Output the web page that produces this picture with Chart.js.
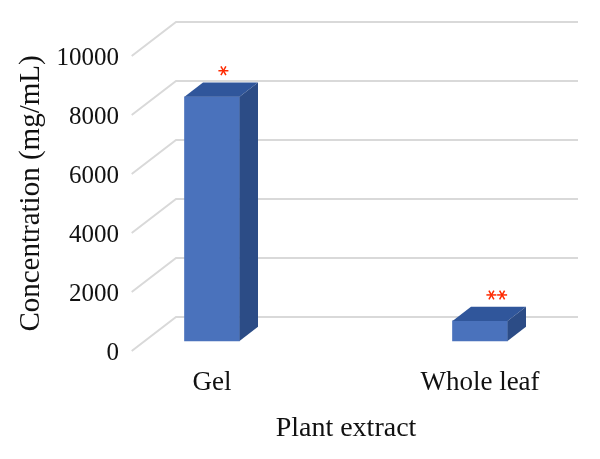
<!DOCTYPE html>
<html><head><meta charset="utf-8">
<script src="https://cdn.jsdelivr.net/npm/chart.js@4.4.1/dist/chart.umd.min.js"></script>
<style>html,body{margin:0;padding:0;background:#fff;}#wrap{width:600px;height:459px;}</style>
</head><body><div id="wrap"><canvas id="c" width="600" height="459"></canvas></div>
<script>
const categories = ["Gel", "Whole leaf"];
const concentration = [8280, 680];
const significance = ["*", "**"];
const yTicks = [0, 2000, 4000, 6000, 8000, 10000];

const FONT = "'Liberation Serif', 'Times New Roman', serif";
const TEXT = '#111111';
const GRID = '#d9d9d9';
const FRONT = '#4a72bc', TOP = '#30569b', SIDE = '#2c4c86', STAR = '#ff2a00';
const BAR_DX = 18.5, BAR_DY = 14.3;       // bar depth
const WALL_BACK_DX = -36, WALL_BACK_DY = 24;   // bar plane -> back wall
const WALL_FRONT_DX = -80.3, WALL_FRONT_DY = -10; // bar plane -> front edge
const GRID_RIGHT_EXTRA = 98;

const threeD = {
  id: 'threeD',
  beforeDatasetsDraw(chart) {
    const {ctx, chartArea, scales: {y}} = chart;
    ctx.save();
    ctx.strokeStyle = GRID;
    ctx.lineWidth = 2;
    ctx.lineCap = 'butt';
    y.ticks.forEach(t => {
      const yb = y.getPixelForValue(t.value);
      const xBack = chartArea.left + WALL_BACK_DX;
      const yBack = yb - WALL_BACK_DY;
      ctx.beginPath();
      ctx.moveTo(chartArea.left + WALL_FRONT_DX, yb - WALL_FRONT_DY);
      ctx.lineTo(xBack, yBack);
      ctx.lineTo(chartArea.right + GRID_RIGHT_EXTRA, yBack);
      ctx.stroke();
    });
    ctx.restore();
  },
  afterDatasetsDraw(chart) {
    const {ctx} = chart;
    const meta = chart.getDatasetMeta(0);
    ctx.save();
    meta.data.forEach((bar, i) => {
      const {x, y, base, width} = bar.getProps(['x', 'y', 'base', 'width'], true);
      const l = x - width / 2, r = x + width / 2;
      // top face
      ctx.fillStyle = TOP;
      ctx.beginPath();
      ctx.moveTo(l, y); ctx.lineTo(l + BAR_DX, y - BAR_DY);
      ctx.lineTo(r + BAR_DX, y - BAR_DY); ctx.lineTo(r, y);
      ctx.closePath(); ctx.fill();
      // side face
      ctx.fillStyle = SIDE;
      ctx.beginPath();
      ctx.moveTo(r, y); ctx.lineTo(r + BAR_DX, y - BAR_DY);
      ctx.lineTo(r + BAR_DX, base - BAR_DY); ctx.lineTo(r, base);
      ctx.closePath(); ctx.fill();
      // significance stars
      const n = significance[i].length;
      ctx.strokeStyle = STAR;
      ctx.lineWidth = 1.5;
      for (let k = 0; k < n; k++) {
        const cx = x + 11.4 + k * 10.7, cy = y - 26;
        const rad = 5;
        [0, Math.PI / 3, 2 * Math.PI / 3].forEach(a => {
          ctx.beginPath();
          ctx.moveTo(cx - rad * Math.cos(a), cy - rad * Math.sin(a));
          ctx.lineTo(cx + rad * Math.cos(a), cy + rad * Math.sin(a));
          ctx.stroke();
        });
      }
    });
    ctx.restore();
  }
};

new Chart(document.getElementById('c'), {
  type: 'bar',
  data: {
    labels: categories,
    datasets: [{
      data: concentration,
      backgroundColor: FRONT,
      borderWidth: 0,
      barThickness: 55,
      clip: false
    }]
  },
  options: {
    responsive: false,
    animation: false,
    events: [],
    layout: {padding: {left: 0, right: 120, top: 46, bottom: 0}},
    plugins: {legend: {display: false}, tooltip: {enabled: false}},
    scales: {
      x: {
        offset: false,
        grid: {display: false, drawTicks: false},
        border: {display: false},
        ticks: {color: TEXT, font: {family: FONT, size: 27}, padding: 26, maxRotation: 0, autoSkip: false},
        title: {display: true, text: 'Plant extract', color: TEXT, font: {family: FONT, size: 28}, padding: {top: 0, bottom: 14}},
        afterFit(s) { s.height = 118; s.paddingLeft = 0; s.paddingRight = 0; }
      },
      y: {
        min: 0, max: 10000,
        grid: {display: false, drawTicks: false},
        border: {display: false},
        afterBuildTicks(s) { s.ticks = yTicks.map(v => ({value: v})); },
        ticks: {color: TEXT, font: {family: FONT, size: 25}, padding: 93, labelOffset: 12,
                callback: v => String(v)},
        title: {display: true, text: 'Concentration (mg/mL)', color: TEXT, font: {family: FONT, size: 29}, padding: {top: 14, bottom: 0}},
        afterFit(s) { s.width = 212; s.paddingTop = 0; s.paddingBottom = 0; }
      }
    }
  },
  plugins: [threeD]
});
</script>
</body></html>
